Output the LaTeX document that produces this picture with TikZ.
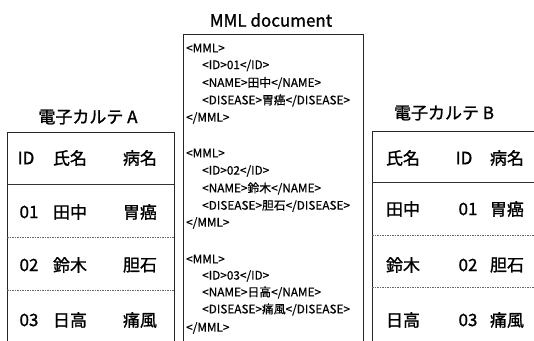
\documentclass[tikz,border=0pt]{standalone}
\usepackage{fontspec}
\setmainfont{Noto Sans CJK JP}
\newfontfamily\heavyfont[FakeBold=1.2]{Noto Sans CJK JP}
\newfontfamily\codefont[FakeBold=0.6]{Noto Sans CJK JP}
\begin{document}
\begin{tikzpicture}[x=1pt,y=-1pt,
  frame/.style={draw=black!85, line width=0.9pt},
  solidsep/.style={draw=black!80, line width=0.8pt},
  dotsep/.style={draw=black!60, line width=0.6pt, dash pattern=on 1.5pt off 1pt},
  title/.style={font=\heavyfont\fontsize{17}{17}\selectfont, inner sep=0pt},
  cell/.style={font=\heavyfont\fontsize{17}{17}\selectfont, inner sep=0pt},
  code/.style={font=\codefont\fontsize{11.8}{11.8}\selectfont, inner sep=0pt, anchor=west}]
\useasboundingbox (0,0) rectangle (534,340);
\fill[white] (0,0) rectangle (534,340);
\clip (0,0) rectangle (534,340);
% titles
\node[title] (tA) at (88,117) {電子カルテ A};
\node[title] (tM) at (271,20) {MML document};
\node[title] (tB) at (444,113) {電子カルテ B};
% frames
\node[frame, minimum width=167pt, minimum height=220pt, anchor=north west, inner sep=0pt] (boxA) at (7,132) {};
\node[frame, minimum width=180pt, minimum height=320pt, anchor=north west, inner sep=0pt] (boxM) at (183,34) {};
\node[frame, minimum width=175pt, minimum height=220pt, anchor=north west, inner sep=0pt] (boxB) at (372,131) {};
% row separators A
\coordinate (a1l) at (7,184); \coordinate (a1r) at (174,184);
\coordinate (a2l) at (7,237); \coordinate (a2r) at (174,237);
\coordinate (a3l) at (7,290); \coordinate (a3r) at (174,290);
\draw[solidsep] (a1l) -- (a1r);
\draw[dotsep] (a2l) -- (a2r);
\draw[dotsep] (a3l) -- (a3r);
% row separators B
\coordinate (b1l) at (372,182); \coordinate (b1r) at (547,182);
\coordinate (b2l) at (372,235); \coordinate (b2r) at (547,235);
\coordinate (b3l) at (372,287); \coordinate (b3r) at (547,287);
\draw[solidsep] (b1l) -- (b1r);
\draw[dotsep] (b2l) -- (b2r);
\draw[dotsep] (b3l) -- (b3r);
% table A cells
\node[cell] (aH1) at (26,158) {ID};
\node[cell] (aH2) at (70,158) {氏名};
\node[cell] (aH3) at (140,158) {病名};
\node[cell] (a11) at (29,212) {01};
\node[cell] (a12) at (70,212) {田中};
\node[cell] (a13) at (140,212) {胃癌};
\node[cell] (a21) at (29,265) {02};
\node[cell] (a22) at (70,265) {鈴木};
\node[cell] (a23) at (140,265) {胆石};
\node[cell] (a31) at (29,320) {03};
\node[cell] (a32) at (70,320) {日高};
\node[cell] (a33) at (140,320) {痛風};
% table B cells
\node[cell] (bH1) at (403,158) {氏名};
\node[cell] (bH2) at (464,158) {ID};
\node[cell] (bH3) at (507,158) {病名};
\node[cell] (b11) at (403,209) {田中};
\node[cell] (b12) at (468,209) {01};
\node[cell] (b13) at (507,209) {胃癌};
\node[cell] (b21) at (403,265) {鈴木};
\node[cell] (b22) at (468,265) {02};
\node[cell] (b23) at (507,265) {胆石};
\node[cell] (b31) at (403,320) {日高};
\node[cell] (b32) at (468,320) {03};
\node[cell] (b33) at (507,320) {痛風};
% MML code
\node[code] (m11) at (186,48) {<MML>};
\node[code] (m12) at (202,65.5) {<ID>01</ID>};
\node[code] (m13) at (202,83) {<NAME>田中</NAME>};
\node[code] (m14) at (202,100.5) {<DISEASE>胃癌</DISEASE>};
\node[code] (m15) at (186,118) {</MML>};
\node[code] (m21) at (186,153) {<MML>};
\node[code] (m22) at (202,171) {<ID>02</ID>};
\node[code] (m23) at (202,188.5) {<NAME>鈴木</NAME>};
\node[code] (m24) at (202,206) {<DISEASE>胆石</DISEASE>};
\node[code] (m25) at (186,223) {</MML>};
\node[code] (m31) at (186,259) {<MML>};
\node[code] (m32) at (202,276) {<ID>03</ID>};
\node[code] (m33) at (202,292.5) {<NAME>日高</NAME>};
\node[code] (m34) at (202,309.5) {<DISEASE>痛風</DISEASE>};
\node[code] (m35) at (186,328) {</MML>};
\end{tikzpicture}
\end{document}
